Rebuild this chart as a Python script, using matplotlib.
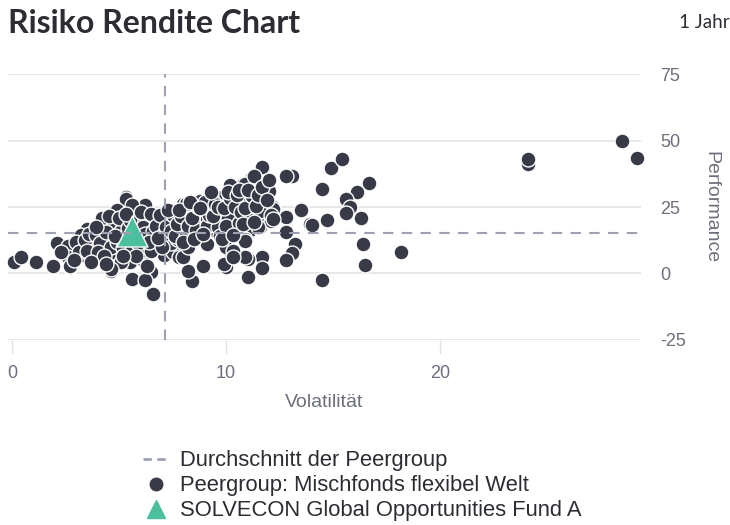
import matplotlib
matplotlib.use("Agg")
import matplotlib.pyplot as plt
from matplotlib.lines import Line2D

# Peergroup: Mischfonds flexibel Welt (Volatilitaet, Performance)
peer_vol = [
    0.1, 0.4, 1.1, 1.9, 2.1, 2.6, 2.7, 3.2, 3.5, 3.6, 4.1, 4.3, 4.6, 4.8, 5.0, 5.3, 5.6, 5.5, 5.6, 6.2,
    6.5, 6.5, 6.2, 6.6, 6.8, 7.3, 7.5, 7.1, 8.1, 8.5, 8.8, 9.4, 9.0, 10.0, 10.0, 10.2, 10.8, 11.0,
    5.3, 5.6, 4.9, 6.0, 4.4, 5.1, 4.0, 6.4, 6.8, 7.6, 3.2, 3.8, 4.7, 3.2, 3.8, 2.6, 2.7, 3.3, 4.1, 4.7,
    5.1, 6.1, 4.6, 6.0, 6.5, 6.8, 7.5, 7.5, 6.3, 4.6, 5.8, 6.9, 7.8,
    11.7, 13.1, 12.8, 11.2, 10.2, 10.9, 11.9, 9.8, 9.3, 12.2, 13.5, 14.0, 12.8, 12.8, 13.2, 13.1, 11.7,
    11.7, 11.0, 10.1, 8.9, 8.4, 8.2, 8.0, 7.4, 11.6, 10.9, 11.0, 9.4, 8.4, 8.0, 8.0, 7.4, 10.2, 9.9,
    10.3, 11.6, 8.1, 8.9, 12.2, 7.7, 9.9, 11.0, 11.6, 10.5, 7.6, 8.6, 9.1, 9.9, 12.1, 8.1, 9.4, 11.1,
    10.4, 8.9, 9.9, 7.7, 10.9, 8.2, 9.1, 10.0, 10.9, 12.8, 11.3, 12.0, 13.5, 13.9, 10.9, 10.3, 10.3,
    11.5, 11.0,
    14.5, 14.9, 15.4, 16.7, 16.1, 15.6, 15.8, 15.6, 14.7, 16.3, 14.0, 13.5, 16.4, 16.5, 18.2, 14.5,
    24.1, 24.1, 28.5, 29.2,
    3.0, 3.1, 3.4, 3.6, 3.5, 3.9, 4.1, 4.0, 4.2, 4.4, 4.6, 4.5, 4.3, 5.1, 4.9, 5.2, 5.0, 4.8,
    5.4, 5.7, 5.5, 5.3, 5.6, 6.1, 5.9, 6.2, 6.0, 5.8, 6.6, 6.4, 6.5, 6.7, 7.1, 6.9, 7.0, 7.2, 6.8,
    7.4, 7.6, 7.5, 7.7, 7.3, 8.1, 7.9, 8.2, 8.0, 7.8, 8.6, 8.4, 8.5, 8.7, 8.3, 9.1, 8.9, 9.2, 9.0, 8.8,
    9.6, 9.4, 9.5, 9.7, 9.3, 9.6, 10.1, 9.9, 10.2, 10.0, 9.8, 10.1, 10.6, 10.4, 10.5, 10.7, 10.3, 10.6,
    11.1, 10.9, 11.2, 11.0, 10.8, 11.6, 11.4, 11.5, 11.7, 11.3, 12.1, 11.9, 12.0, 12.2,
    2.9, 3.7, 4.4, 5.2, 6.3, 2.3, 3.9,
]
peer_perf = [
    4.2, 6.2, 4.2, 3.0, 11.4, 10.5, 2.4, 10.5, 16.8, 6.1, 18.7, 11.2, 1.1, 18.7, 23.7, 28.9, 26.2, 4.2, -2.0, 25.6,
    9.9, 0.5, -2.6, -7.6, 19.9, 18.0, 11.8, 6.8, 19.3, 23.0, 27.4, 28.7, 11.8, 11.2, 2.4, 32.4, 33.7, -1.4,
    28.1, 25.6, 23.7, 21.8, 19.3, 19.3, 16.8, 19.3, 20.6, 20.6, 14.3, 13.6, 13.0, 9.9, 9.3, 6.1, 3.0, 6.8, 6.1, 8.0,
    4.2, 4.9, 1.8, 8.6, 8.6, 13.0, 11.2, 8.0, 14.3, 18.0, 15.5, 16.8, 6.1,
    40.0, 36.8, 36.6, 36.2, 33.1, 33.7, 30.6, 28.7, 29.3, 24.9, 23.9, 18.4, 21.2, 15.5, 11.2, 7.6, 6.1,
    2.1, 5.5, 9.3, 3.0, -2.9, 1.1, 6.1, 11.4, 17.4, 22.4, 26.8, 23.0, 23.7, 16.2, 26.2, 18.0, 17.4, 3.6,
    27.4, 27.4, 26.2, 25.6, 24.3, 22.4, 23.0, 22.4, 21.8, 21.2, 19.3, 19.3, 20.6, 19.3, 19.9, 16.2, 16.2, 16.2,
    16.2, 13.6, 14.3, 13.0, 13.0, 9.9, 11.2, 9.9, 6.1, 4.9, 36.8, 31.2, 24.3, 18.7, 12.4, 8.6, 6.1,
    17.4, 23.0,
    31.6, 39.7, 43.0, 34.2, 30.6, 28.1, 24.9, 22.7, 20.2, 20.9, 18.3, 23.7, 11.2, 3.3, 7.9, -2.4,
    41.2, 43.2, 49.7, 43.3,
    12.0, 8.0, 12.5, 15.0, 8.5, 14.5, 11.5, 8.0, 21.0, 15.5, 10.0, 21.5, 6.5, 16.0, 12.0, 9.5, 21.0, 14.0,
    17.0, 12.5, 20.0, 22.5, 9.0, 17.5, 11.5, 15.0, 23.0, 6.5, 16.0, 12.0, 22.5, 18.0, 15.0, 22.0, 10.0, 17.5, 13.5,
    16.0, 14.0, 22.0, 18.5, 24.0, 14.0, 21.5, 18.0, 12.0, 24.0, 16.5, 21.0, 13.0, 25.0, 27.0, 18.0, 15.0, 22.0, 27.0, 24.5,
    17.5, 21.5, 26.0, 14.0, 30.5, 25.0, 21.0, 24.5, 28.5, 18.0, 13.0, 30.5, 19.0, 25.0, 29.5, 23.0, 14.5, 31.5,
    20.0, 24.5, 29.0, 31.5, 18.5, 23.5, 25.5, 29.5, 32.5, 19.5, 22.0, 27.5, 35.0, 20.5,
    5.0, 4.5, 3.5, 6.5, 3.0, 8.0, 17.5,
]

fund_vol = [5.6]
fund_perf = [15.8]

mean_vol = 7.15
mean_perf = 15.4

x_ticks = [0, 10, 20]
y_ticks = [-25, 0, 25, 50, 75]

dot_color = "#383a48"
fund_color = "#4cbf9e"
mean_color = "#9ea1b2"
grid_color = "#e3e3e6"
text_color = "#6d707c"

plt.rcParams["font.family"] = ["Liberation Sans", "DejaVu Sans"]
plt.rcParams["axes.unicode_minus"] = False

fig = plt.figure(figsize=(7.3, 5.25), dpi=100)
ax = fig.add_axes([0.011, 0.3524, 0.867, 0.5066])

ax.scatter(peer_vol, peer_perf, s=115, color=dot_color, edgecolors="white", linewidths=1.0,
           zorder=3, clip_on=False)
ax.scatter(fund_vol, fund_perf, s=500, marker="^", color=fund_color, edgecolors="white", linewidths=1.0, zorder=4)
ax.axvline(mean_vol, color=mean_color, linestyle=(0, (5, 4)), linewidth=1.5, zorder=5)
ax.axhline(mean_perf, color=mean_color, linestyle=(0, (5, 4)), linewidth=1.5, zorder=5)

ax.set_xlim(-0.2, 29.4)
ax.set_ylim(-25, 75)
ax.set_xticks(x_ticks)
ax.set_yticks(y_ticks)
ax.grid(axis="y", color=grid_color, linewidth=1.2, zorder=0)
for s in ax.spines.values():
    s.set_visible(False)
ax.yaxis.tick_right()
ax.yaxis.set_label_position("right")
ax.tick_params(axis="y", length=0, pad=14, labelsize=13, labelcolor=text_color)
ax.tick_params(axis="x", length=10, width=1, color=grid_color, pad=8, labelsize=13, labelcolor=text_color)
ax.set_xlabel("Volatilität", fontsize=14, color=text_color, labelpad=9)
ax.set_ylabel("Performance", fontsize=14, color=text_color, rotation=270, va="center")
ax.yaxis.set_label_coords(1.11, 0.5)

fig.text(0.011, 0.955, "Risiko Rendite Chart", fontsize=23, fontweight="bold",
         family=["Lato", "DejaVu Sans"], color="#2b2d33", va="center")
fig.text(0.999, 0.958, "1 Jahr", fontsize=13.5, family=["Lato", "DejaVu Sans"],
         color="#2b2d33", ha="right", va="center")

handles = [
    Line2D([], [], color=mean_color, linestyle=(0, (3, 2)), linewidth=2),
    Line2D([], [], marker="o", linestyle="", color=dot_color, markersize=9),
    Line2D([], [], marker="^", linestyle="", color=fund_color, markersize=13),
]
labels = ["Durchschnitt der Peergroup", "Peergroup: Mischfonds flexibel Welt",
          "SOLVECON Global Opportunities Fund A"]
fig.legend(handles, labels, loc="upper left", bbox_to_anchor=(0.196, 0.142), frameon=False,
           fontsize=15.8, labelcolor="#2b2d33", handlelength=1.2, handletextpad=0.5,
           labelspacing=0.18, borderaxespad=0, borderpad=0)

fig.savefig("out.png", dpi=100)
